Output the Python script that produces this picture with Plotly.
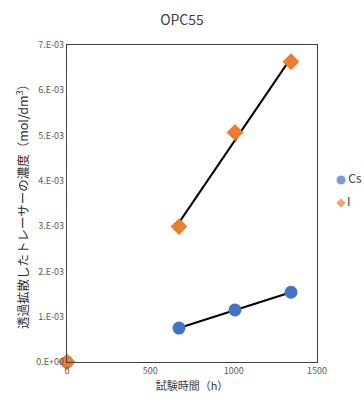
import numpy as np
import plotly.graph_objects as go

# Data
series_names = ["Cs", "I"]
hours = [0, 672, 1008, 1344]
cs_conc = [0.0, 0.00075, 0.00115, 0.00154]
i_conc = [0.0, 0.00299, 0.00507, 0.00663]
x_ticks = [0, 500, 1000, 1500]
y_ticks = [0, 0.001, 0.002, 0.003, 0.004, 0.005, 0.006, 0.007]
y_tick_labels = ["0.E+00", "1.E-03", "2.E-03", "3.E-03", "4.E-03", "5.E-03", "6.E-03", "7.E-03"]

JP = "Noto Sans CJK JP"
BLUE = "#4472C4"
ORANGE = "#ED7D31"

W, H = 364, 401
ML, MT, MB = 67, 45, 39
PLOT_W = 250
paper_w = W - ML
paper_h = H - MT - MB

fig = go.Figure()

# trend lines (linear fit of non-zero points)
for vals in (i_conc, cs_conc):
    xs = np.array(hours[1:], dtype=float)
    ys = np.array(vals[1:], dtype=float)
    k, b = np.polyfit(xs, ys, 1)
    fig.add_trace(go.Scatter(x=[xs[0], xs[-1]], y=[k * xs[0] + b, k * xs[-1] + b],
                             mode="lines", line=dict(color="black", width=2),
                             showlegend=False, hoverinfo="skip"))

fig.add_trace(go.Scatter(x=hours, y=cs_conc, mode="markers", name=series_names[0],
                         marker=dict(color=BLUE, size=13, symbol="circle"),
                         showlegend=False, cliponaxis=False))
fig.add_trace(go.Scatter(x=hours, y=i_conc, mode="markers", name=series_names[1],
                         marker=dict(color=ORANGE, size=13, symbol="diamond"),
                         showlegend=False, cliponaxis=False))

# custom legend on a hidden auxiliary axis pair (first item on top)
fig.add_trace(go.Scatter(x=[0, 0], y=[1, 0], mode="markers+text",
                         text=series_names, textposition="middle right",
                         textfont=dict(family=JP, size=12, color="#404040"),
                         marker=dict(color=[BLUE, ORANGE], size=[10, 8],
                                     symbol=["circle", "diamond"]),
                         xaxis="x2", yaxis="y2", showlegend=False,
                         hoverinfo="skip", cliponaxis=False))

axis_common = dict(showgrid=False, zeroline=False, showline=True, mirror=True,
                   linecolor="#404040", linewidth=1.2, ticks="", automargin=False,
                   tickfont=dict(family=JP, size=9, color="#595959"))

fig.update_layout(
    xaxis=dict(domain=[0, PLOT_W / paper_w], range=[0, 1500], tickvals=x_ticks,
               title=dict(text="試験時間（h）", font=dict(family=JP, size=11, color="#404040"), standoff=4),
               **axis_common),
    yaxis=dict(range=[0, 0.007], tickvals=y_ticks, ticktext=y_tick_labels,
               title=dict(text="透過拡散したトレーサーの濃度（mol/dm<sup>3</sup>）",
                          font=dict(family=JP, size=12.5, color="#303030"), standoff=4),
               **axis_common),
    xaxis2=dict(domain=[(341 - ML) / paper_w, 1], range=[0, 1], visible=False, anchor="y2"),
    yaxis2=dict(domain=[(H - MB - 203) / paper_h, (H - MB - 180) / paper_h],
                range=[0, 1], visible=False, anchor="x2"),
    width=W, height=H,
    margin=dict(l=ML, r=0, t=MT, b=MB, autoexpand=False),
    paper_bgcolor="white", plot_bgcolor="rgba(0,0,0,0)",
    title=dict(text="OPC55", x=0.5, xanchor="center", y=0.95, yanchor="middle",
               font=dict(family=JP, size=14, color="#404040")),
    showlegend=False,
    font=dict(family=JP),
)

fig.write_html("out.html", post_script="document.body.style.margin='0';",
               config={"displayModeBar": False})
